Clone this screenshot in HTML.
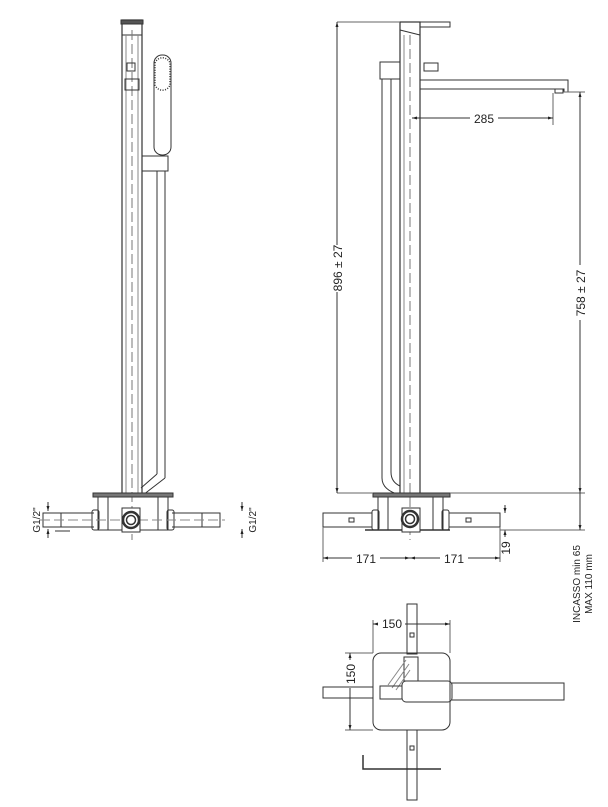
<!DOCTYPE html>
<html><head><meta charset="utf-8"><style>
html,body{margin:0;padding:0;background:#fff;width:608px;height:807px;overflow:hidden}
svg{display:block}
text{font-family:"Liberation Sans",sans-serif;fill:#222}
</style></head><body>
<svg width="608" height="807" viewBox="0 0 608 807" xmlns="http://www.w3.org/2000/svg">
<defs>
<marker id="a" viewBox="0 0 10 10" refX="10" refY="5" markerWidth="7" markerHeight="5" orient="auto-start-reverse"><path d="M0,2 L10,5 L0,8z" fill="#222"/></marker>
</defs>
<g fill="none" stroke="#333" stroke-width="1">
<!-- LEFT VIEW -->
<rect x="122" y="20" width="20" height="475" stroke-width="1.2"/>
<rect x="121" y="20" width="22" height="4" fill="#555"/>
<line x1="122" y1="35" x2="142" y2="35"/>
<line x1="126" y1="35" x2="126" y2="493" stroke="#888"/>
<line x1="138" y1="35" x2="138" y2="493" stroke="#888"/>
<line x1="132" y1="30" x2="132" y2="540" stroke-dasharray="10,4" stroke="#777"/>
<rect x="127" y="63" width="8" height="8"/>
<rect x="125" y="79" width="14" height="11"/>
<rect x="154" y="55" width="17" height="100" rx="8"/>
<path d="M155,63 a8,8 0 0 1 15,0 L170,85 a8,8 0 0 1 -15,0z" stroke-dasharray="1,1.5" stroke-width="1.5"/>
<rect x="142" y="156" width="26" height="15"/>
<line x1="157" y1="171" x2="157" y2="474"/>
<line x1="165" y1="171" x2="165" y2="478"/>
<path d="M157,474 L141,488 M165,478 L143,495"/>
<path d="M93,493 h80 v4 h-80z" fill="#777"/>
<rect x="98" y="497" width="70" height="33"/>
<line x1="108" y1="497" x2="108" y2="530"/><line x1="158" y1="497" x2="158" y2="530"/>
<rect x="43" y="513" width="18" height="14"/><line x1="61" y1="513" x2="94" y2="513"/><line x1="61" y1="527" x2="94" y2="527"/>
<rect x="92" y="510" width="7" height="20" rx="2"/>
<rect x="202" y="513" width="18" height="14"/><line x1="172" y1="513" x2="202" y2="513"/><line x1="172" y1="527" x2="202" y2="527"/>
<rect x="167" y="510" width="7" height="20" rx="2"/>
<line x1="40" y1="520" x2="225" y2="520" stroke-dasharray="10,4" stroke="#888"/>
<rect x="122" y="508" width="18" height="24" fill="#fff"/>
<circle cx="131" cy="520" r="8" stroke-width="2.5"/><circle cx="131" cy="520" r="4.5" stroke-width="1.5"/>
<line x1="55" y1="531" x2="70" y2="531" stroke-width="2" stroke="#999"/>
<line x1="48" y1="502" x2="48" y2="511" marker-end="url(#a)"/><line x1="48" y1="538" x2="48" y2="529" marker-end="url(#a)"/>
<line x1="242" y1="502" x2="242" y2="511" marker-end="url(#a)"/><line x1="242" y1="538" x2="242" y2="529" marker-end="url(#a)"/>
<!-- RIGHT VIEW -->
<rect x="400" y="22" width="20" height="473" stroke-width="1.2"/>
<path d="M400,22 h50 v5 h-30 M400,30 l20,5"/>
<line x1="404" y1="35" x2="404" y2="493" stroke="#888"/>
<line x1="410" y1="35" x2="410" y2="540" stroke-dasharray="10,4" stroke="#777"/>
<rect x="424" y="63" width="14" height="8"/>
<path d="M420,80 h148 v12 h-4 v-3 h-144"/>
<rect x="555" y="89" width="8" height="4"/>
<rect x="380" y="62" width="20" height="17"/>
<line x1="382" y1="79" x2="382" y2="478"/><line x1="391" y1="79" x2="391" y2="472"/>
<path d="M382,478 q0,12 18,17 M391,472 q0,10 9,14"/>
<path d="M373,493 h77 v4 h-77z" fill="#777"/>
<rect x="378" y="497" width="65" height="33"/>
<line x1="388" y1="497" x2="388" y2="530"/><line x1="433" y1="497" x2="433" y2="530"/>
<rect x="323" y="513" width="49" height="14"/><rect x="349" y="518" width="5" height="4"/>
<rect x="372" y="510" width="7" height="20" rx="2"/>
<rect x="449" y="513" width="51" height="14"/><rect x="466" y="518" width="5" height="4"/>
<rect x="442" y="510" width="7" height="20" rx="2"/>
<line x1="365" y1="530" x2="450" y2="530" stroke-width="1.5"/>
<rect x="402" y="508" width="18" height="24" fill="#fff"/>
<circle cx="410" cy="519" r="8" stroke-width="2.5"/><circle cx="410" cy="519" r="4.5" stroke-width="1.5"/>
<!-- dims -->
<line x1="337" y1="22" x2="400" y2="22" stroke="#666"/><line x1="337" y1="493" x2="373" y2="493" stroke="#666"/>
<line x1="337" y1="22" x2="337" y2="245" marker-start="url(#a)"/><line x1="337" y1="292" x2="337" y2="493" marker-end="url(#a)"/>
<line x1="563" y1="92" x2="585" y2="92" stroke="#666"/><line x1="450" y1="493" x2="585" y2="493" stroke="#666"/><line x1="500" y1="530" x2="585" y2="530" stroke="#666"/>
<line x1="580" y1="92" x2="580" y2="265" marker-start="url(#a)"/><line x1="580" y1="320" x2="580" y2="493" marker-end="url(#a)"/>
<line x1="580" y1="493" x2="580" y2="530"/>
<line x1="580" y1="505" x2="580" y2="530" marker-end="url(#a)"/>
<line x1="553" y1="93" x2="553" y2="125" stroke="#666"/>
<line x1="412" y1="118" x2="470" y2="118" marker-start="url(#a)"/><line x1="498" y1="118" x2="553" y2="118" marker-end="url(#a)"/>
<line x1="323" y1="527" x2="323" y2="562" stroke="#666"/><line x1="500" y1="527" x2="500" y2="562" stroke="#666"/>
<line x1="323" y1="558" x2="352" y2="558" marker-start="url(#a)"/><line x1="380" y1="558" x2="410" y2="558" marker-end="url(#a)"/>
<line x1="410" y1="558" x2="440" y2="558" marker-start="url(#a)"/><line x1="468" y1="558" x2="500" y2="558" marker-end="url(#a)"/>
<line x1="505" y1="505" x2="505" y2="513" marker-end="url(#a)"/><line x1="505" y1="537" x2="505" y2="530" marker-end="url(#a)"/>
<line x1="500" y1="530" x2="510" y2="530" stroke="#666"/>
<!-- TOP VIEW -->
<rect x="373" y="653" width="77" height="77" rx="8"/>
<rect x="407" y="604" width="10" height="50"/><rect x="410" y="633" width="4" height="4"/>
<rect x="407" y="730" width="10" height="70"/><rect x="410" y="746" width="4" height="4"/>
<rect x="404" y="657" width="14" height="24"/>
<path d="M388,685 l18,-25 M392,688 l17,-24 M396,690 l14,-20" stroke="#888"/>
<rect x="402" y="681" width="50" height="21" rx="4"/>
<path d="M452,683 h112 v17 h-112"/>
<rect x="380" y="686" width="22" height="13"/>
<rect x="323" y="687" width="50" height="11"/>
<path d="M363,755 v14 h78" stroke-width="1.5"/>
<line x1="373" y1="620" x2="373" y2="653" stroke="#666"/><line x1="450" y1="620" x2="450" y2="653" stroke="#666"/>
<line x1="373" y1="624" x2="378" y2="624" marker-start="url(#a)"/><line x1="405" y1="624" x2="450" y2="624" marker-end="url(#a)"/>
<line x1="345" y1="653" x2="373" y2="653" stroke="#666"/><line x1="345" y1="730" x2="373" y2="730" stroke="#666"/>
<line x1="350" y1="653" x2="350" y2="660" marker-start="url(#a)"/><line x1="350" y1="688" x2="350" y2="730" marker-end="url(#a)"/>
</g>
<g font-size="12">
<text x="0" y="0" transform="translate(40,520) rotate(-90)" text-anchor="middle" font-size="10">G1/2"</text>
<text x="0" y="0" transform="translate(256,520) rotate(-90)" text-anchor="middle" font-size="10">G1/2"</text>
<text x="0" y="0" transform="translate(342,268) rotate(-90)" text-anchor="middle">896 ± 27</text>
<text x="0" y="0" transform="translate(585,293) rotate(-90)" text-anchor="middle">758 ± 27</text>
<text x="484" y="123" text-anchor="middle">285</text>
<text x="366" y="563" text-anchor="middle">171</text>
<text x="454" y="563" text-anchor="middle">171</text>
<text x="0" y="0" transform="translate(510,548) rotate(-90)" text-anchor="middle">19</text>
<text x="0" y="0" transform="translate(580,584) rotate(-90)" text-anchor="middle" font-size="10">INCASSO min 65</text>
<text x="0" y="0" transform="translate(592,584) rotate(-90)" text-anchor="middle" font-size="10">MAX 110 mm</text>
<text x="392" y="628" text-anchor="middle">150</text>
<text x="0" y="0" transform="translate(355,674) rotate(-90)" text-anchor="middle">150</text>
</g>
</svg>
</body></html>
